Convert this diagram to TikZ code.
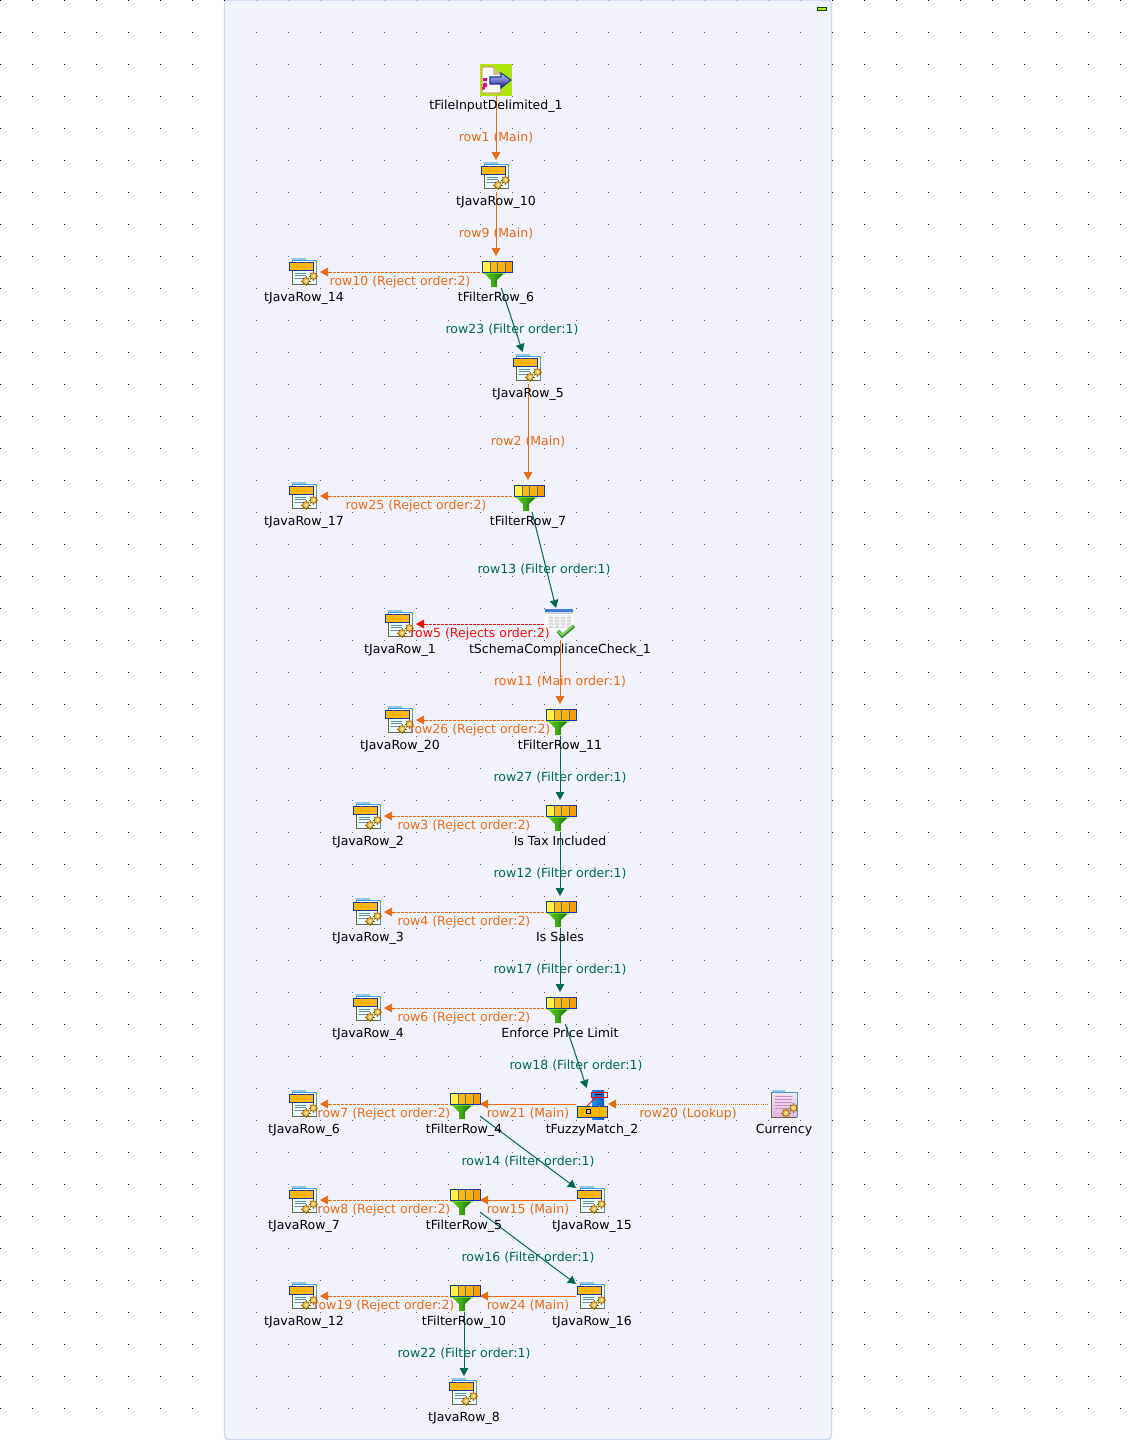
\documentclass[tikz,border=0pt]{standalone}
\usepackage{fontspec}
\setmainfont{DejaVu Sans}
\usetikzlibrary{arrows.meta,calc,backgrounds}
\definecolor{panelbg}{HTML}{DFE1F8}
\definecolor{panelln}{HTML}{C9D6F6}
\definecolor{mainor}{HTML}{F06A10}
\definecolor{lookor}{HTML}{E07010}
\definecolor{filtgr}{HTML}{006B4F}
\definecolor{rejred}{HTML}{FF0A0A}
\definecolor{navy}{HTML}{1838A0}
\definecolor{gold}{HTML}{FFB808}
\definecolor{goldlt}{HTML}{FFF040}
\definecolor{golddk}{HTML}{F4A000}
\definecolor{geardk}{HTML}{8A6420}
\definecolor{gearyl}{HTML}{F4C040}
\definecolor{docln}{HTML}{6A6A50}
\definecolor{docbl}{HTML}{4C9CD8}
\definecolor{docpale}{HTML}{F0F9F4}
\definecolor{lime}{HTML}{AEE60A}
\definecolor{tan}{HTML}{C8A870}
\definecolor{funlt}{HTML}{66DD11}
\definecolor{fundk}{HTML}{0A6A0A}
\definecolor{pinkhi}{HTML}{F4E4F2}
\definecolor{pinklo}{HTML}{E2B4E0}
\definecolor{fuzzlt}{HTML}{1E90F0}
\definecolor{fuzzdk}{HTML}{0C5CC0}
\tikzset{
  comp/.style    = {minimum size=24pt, inner sep=0pt, outer sep=0pt},
  comptxt/.style = {font=\fontsize{9.4pt}{9.4pt}\selectfont, inner sep=0pt, text height=7pt, text depth=2pt},
  edgetxt/.style = {comptxt, yshift=-7.4pt},
  lnk/.style     = {line width=.75pt, -{Triangle[length=6pt,width=6.5pt]}},
  mainln/.style  = {color=mainor},
  filterln/.style= {color=filtgr},
  rejectln/.style= {color=mainor, dash pattern=on 2.2pt off .8pt},
  rejredln/.style= {color=rejred, dash pattern=on 2.2pt off .8pt},
  lookln/.style  = {color=lookor, dash pattern=on .8pt off .8pt},
  gearwheel/.pic = {
    \foreach \ang in {0,45,...,315}
      \draw[geardk,line width=.7pt] (\ang:2.8) -- (\ang:4.6);
    \filldraw[draw=geardk,fill=gearyl,line width=.5pt] (0,0) circle (3.4);
    \fill[docpale] (0,0) circle (1.2);
  },
  javarow/.pic = {
    \fill[docbl!60] (-12,-14) rectangle (2,-11);
    \filldraw[draw=docbl,fill=docpale,line width=.6pt] (-12,-12) rectangle (12.5,12);
    \draw[docln,line width=.7pt] (12.5,12) -- (-12,12) -- (-12,-9);
    \fill[gold] (-15,-10) rectangle (9,-2);
    \draw[navy,line width=.6pt] (-15,-10) rectangle (9,-2);
    \draw[golddk,line width=.4pt] (-7,-10) -- (-7,-2) (1,-10) -- (1,-2);
    \foreach \yy in {1,3.5,6}
      \draw[docbl!70!gray,line width=.5pt] (-9,\yy) -- (2,\yy);
    \pic at (2,9) {gearwheel};
    \pic at (9.5,4) {gearwheel};
  },
  currdoc/.pic = {
    \fill[docbl!60] (-12.5,-14) rectangle (1,-11);
    \shade[top color=pinkhi,bottom color=pinklo] (-12.5,-12) rectangle (13,13);
    \draw[docbl,line width=.6pt] (-12.5,-12) -- (13,-12) -- (13,13);
    \draw[docln,line width=.7pt] (13,13) -- (-12.5,13) -- (-12.5,-12);
    \foreach \yy in {-8,-5,-2,1,4}
      \draw[violet!45!white,line width=.5pt] (-9,\yy) -- (8,\yy);
    \pic at (2,9) {gearwheel};
    \pic at (9.5,4) {gearwheel};
  },
  filterrow/.pic = {
    \shade[left color=funlt,right color=fundk] (-13,0) -- (9,0) -- (1,8) -- (1,15) -- (-5,15) -- (-5,8) -- cycle;
    \fill[funlt] (-13,0) rectangle (9,1.5);
    \fill[goldlt] (-14,-11) rectangle (-6,0);
    \fill[gold] (-6,-11) rectangle (1,0);
    \fill[gold!95!orange] (1,-11) rectangle (9,0);
    \fill[golddk] (9,-11) rectangle (16,0);
    \draw[navy,line width=.7pt] (-14,-11) rectangle (16,0);
    \draw[navy!40!gray,line width=.4pt] (-6,-11) -- (-6,0) (1,-11) -- (1,0) (9,-11) -- (9,0);
  },
  fileinput/.pic = {
    \fill[lime] (-16,-16) rectangle (16,16);
    \filldraw[draw=tan,fill=white,line width=.9pt] (-14,-13) -- (-3,-13) -- (5,-5) -- (5,13) -- (-14,13) -- cycle;
    \fill[tan!70!white] (-3,-13) -- (5,-5) -- (-3,-5) -- cycle;
    \fill[magenta!85!purple] (-13,-2) rectangle (-9,1) (-13,3) rectangle (-9,7) (-11,7) rectangle (-14,9.5);
    \shade[top color=blue!20!white,bottom color=blue!50!black!90,draw=navy,line width=.8pt] (-6,-3) -- (5,-3) -- (5,-7) -- (15,0) -- (5,8) -- (5,4) -- (-6,4) -- cycle;
  },
  schemachk/.pic = {
    \fill[white] (-15,-15) rectangle (12.5,6);
    \fill[gray!10] (-13,-9) rectangle (12,5);
    \fill[docbl!80!blue] (-15,-15) rectangle (12.5,-12);
    \fill[gray!35] (-15,-12) rectangle (12.5,-10);
    \foreach \yy in {-7,-4,-1,2}
      \foreach \xx in {-11,-5,1,7}
        \fill[gray!30] (\xx,\yy) rectangle +(4,1.5);
    \draw[green!40!black!75,line width=2.6pt] (-2,7) -- (2,12) -- (14,2);
    \draw[funlt!80!white,line width=1pt] (-2,7) -- (2,11) -- (13,2);
  },
  fuzzyjoin/.pic = {
    \shade[left color=fuzzlt,right color=fuzzdk] (0,-14) rectangle (12,15);
    \draw[red,line width=.7pt] (-5,2) -- (5,-8);
    \draw[red,line width=.7pt] (-1,-12) rectangle (15,-7);
    \draw[black,line width=.9pt] (3,-9.5) -- (10,-9.5);
    \fill[gold] (-15,2) rectangle (15,13);
    \draw[navy,line width=.7pt] (-15,2) rectangle (15,13);
    \draw[golddk,line width=.4pt] (-1,2) -- (-1,13) (7,2) -- (7,13);
    \draw[black,line width=.7pt] (-6,5) rectangle (-2,9);
  }
}
\begin{document}
\begin{tikzpicture}[x=.75pt,y=-.75pt]
\useasboundingbox (0,0) rectangle (1135,1440);

% grid behind the job panel
\begin{scope}[on background layer]
\foreach \x in {0,32,...,1120}
  \foreach \y in {0,32,...,1408}
    \fill[black] (\x,\y) rectangle +(1,1);
\fill[panelbg,fill opacity=.42,rounded corners=3pt] (224.5,0) rectangle (831.5,1439.5);
\draw[panelln,line width=1pt,rounded corners=3pt] (224.5,0) rectangle (831.5,1439.5);
\end{scope}
\filldraw[draw=green!30!black,fill=lime,line width=.75pt] (817.5,7.5) rectangle (826.5,10.5);

% the components
\foreach \nm/\x/\y/\txt in {
  jr10/496/176/tJavaRow\_10, jr14/304/272/tJavaRow\_14, jr5/528/368/tJavaRow\_5,
  jr17/304/496/tJavaRow\_17, jr1/400/624/tJavaRow\_1, jr20/400/720/tJavaRow\_20,
  jr2/368/816/tJavaRow\_2, jr3/368/912/tJavaRow\_3, jr4/368/1008/tJavaRow\_4,
  jr6/304/1104/tJavaRow\_6, jr15/592/1200/tJavaRow\_15, jr7/304/1200/tJavaRow\_7,
  jr16/592/1296/tJavaRow\_16, jr12/304/1296/tJavaRow\_12, jr8/464/1392/tJavaRow\_8}
{
  \node[comp,label={[comptxt,name=\nm-txt,label distance=3pt]below:\txt}] (\nm) at (\x,\y) {};
  \pic at (\nm) {javarow};
}

\foreach \nm/\x/\y/\txt in {
  fr6/496/272/tFilterRow\_6, fr7/528/496/tFilterRow\_7, fr11/560/720/tFilterRow\_11,
  taxi/560/816/Is Tax Included, sales/560/912/Is Sales, plim/560/1008/Enforce Price Limit,
  fr4/464/1104/tFilterRow\_4, fr5/464/1200/tFilterRow\_5, fr10/464/1296/tFilterRow\_10}
{
  \node[comp,label={[comptxt,name=\nm-txt,label distance=3pt]below:\txt}] (\nm) at (\x,\y) {};
  \pic at (\nm) {filterrow};
}

\node[comp,label={[comptxt,name=fi1-txt,label distance=3pt]below:tFileInputDelimited\_1}] (fi1) at (496,80) {};
\pic at (fi1) {fileinput};
\node[comp,label={[comptxt,name=sc1-txt,label distance=3pt]below:tSchemaComplianceCheck\_1}] (sc1) at (560,624) {};
\pic at (sc1) {schemachk};
\node[comp,label={[comptxt,name=fm2-txt,label distance=3pt]below:tFuzzyMatch\_2}] (fm2) at (592,1104) {};
\pic at (fm2) {fuzzyjoin};
\node[comp,label={[comptxt,name=cur-txt,label distance=3pt]below:Currency}] (cur) at (784,1104) {};
\pic at (cur) {currdoc};

% the rows, with their labels on top
\foreach \a/\b/\sty/\txt in {
  fi1/jr10/mainln/row1 (Main), jr10/fr6/mainln/row9 (Main),
  fr6/jr14/rejectln/row10 (Reject order:2), fr6/jr5/filterln/row23 (Filter order:1),
  jr5/fr7/mainln/row2 (Main), fr7/jr17/rejectln/row25 (Reject order:2),
  fr7/sc1/filterln/row13 (Filter order:1), sc1/jr1/rejredln/row5 (Rejects order:2),
  sc1/fr11/mainln/row11 (Main order:1), fr11/jr20/rejectln/row26 (Reject order:2),
  fr11/taxi/filterln/row27 (Filter order:1), taxi/jr2/rejectln/row3 (Reject order:2),
  taxi/sales/filterln/row12 (Filter order:1), sales/jr3/rejectln/row4 (Reject order:2),
  sales/plim/filterln/row17 (Filter order:1), plim/jr4/rejectln/row6 (Reject order:2),
  plim/fm2/filterln/row18 (Filter order:1), cur/fm2/lookln/row20 (Lookup),
  fm2/fr4/mainln/row21 (Main), fr4/jr6/rejectln/row7 (Reject order:2),
  fr4/jr15/filterln/row14 (Filter order:1), jr15/fr5/mainln/row15 (Main),
  fr5/jr7/rejectln/row8 (Reject order:2), fr5/jr16/filterln/row16 (Filter order:1),
  jr16/fr10/mainln/row24 (Main), fr10/jr12/rejectln/row19 (Reject order:2),
  fr10/jr8/filterln/row22 (Filter order:1)}
{
  \begin{scope}[on background layer]
    \draw[lnk,\sty] (\a) -- (\b);
  \end{scope}
  \node[edgetxt,\sty] (\a-\b) at ($(\a)!.5!(\b)$) {\txt};
}
\end{tikzpicture}
\end{document}
